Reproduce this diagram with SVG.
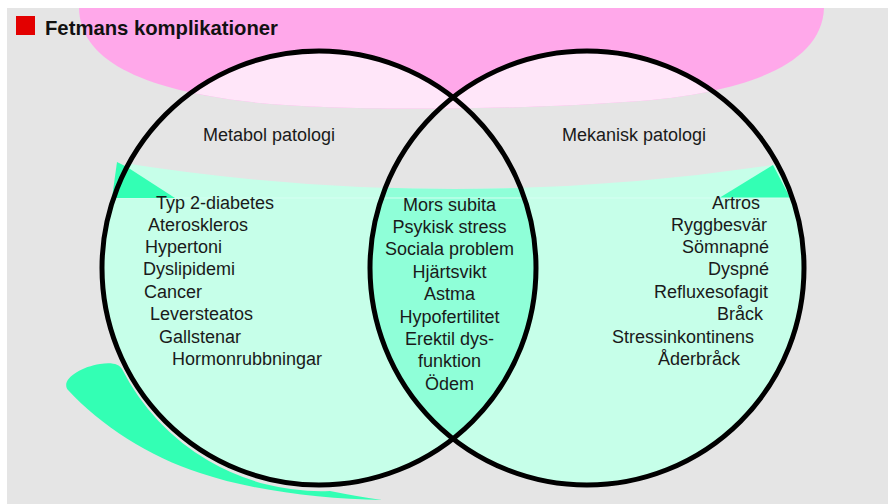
<svg xmlns="http://www.w3.org/2000/svg" width="888" height="504" viewBox="0 0 888 504">
<style>
.t{font-family:"Liberation Sans",Arial,sans-serif;font-size:18px;fill:#1a1a1a}
.c{text-anchor:middle}
.e{text-anchor:end}
.ring{fill:none;stroke:#000;stroke-width:5}
</style>
<defs>
<clipPath id="cu"><circle cx="319" cy="268" r="217"/><circle cx="587" cy="268" r="217"/></clipPath>
<clipPath id="ca"><circle cx="319" cy="268" r="217"/></clipPath>
<clipPath id="cb"><circle cx="587" cy="268" r="217"/></clipPath>
<path id="blob" d="M79,8 C80,60 140,92 270,104 C360,111 520,110 640,101 C745,92 822,65 824,8 Z"/>
<path id="lower" d="M90,162 L117,162 Q445,214.5 773,165 L820,165 L820,504 L90,504 Z"/>
</defs>
<g id="background">
<rect x="0" y="0" width="888" height="504" fill="#fff"/>
<rect x="7" y="8" width="881" height="496" fill="#e5e5e5"/>
<use href="#blob" fill="#ffa8ea"/>
<use href="#blob" fill="#ffe6f9" clip-path="url(#cu)"/>
<use href="#lower" fill="#c6ffe9" clip-path="url(#cu)"/>
<g clip-path="url(#ca)"><use href="#lower" fill="#8fffd8" clip-path="url(#cb)"/></g>
<line x1="110" y1="198" x2="792" y2="198" stroke="#d6fff2" stroke-width="1" clip-path="url(#cu)"/>
<path d="M117,162 L127,167 L175,198 L112,198 Z" fill="#33ffb4"/>
<path d="M773,165 L790,197.5 L720,197.5 Z" fill="#33ffb4"/>
<path d="M122,369 A223,223 0 0 0 330,491 Q360,497 382,500 C320,499 250,490 200,473 C150,457 100,425 68,390 C60,380 80,367 100,364 C112,362 119,364 122,369 Z" fill="#33ffb4"/>
</g>
<g id="title">
<rect x="16" y="16" width="19" height="19" fill="#e30000"/>
<text x="45" y="35" font-family="Liberation Sans,Arial,sans-serif" font-size="21" font-weight="bold" fill="#111" textLength="233" lengthAdjust="spacingAndGlyphs">Fetmans komplikationer</text>
</g>
<g id="metabol">
<circle class="ring" cx="319" cy="268" r="217"/>
<text class="t c" x="269" y="141">Metabol patologi</text>
<text class="t" x="156" y="209">Typ 2-diabetes</text>
<text class="t" x="148" y="231">Ateroskleros</text>
<text class="t" x="145" y="253">Hypertoni</text>
<text class="t" x="143" y="275">Dyslipidemi</text>
<text class="t" x="144" y="298">Cancer</text>
<text class="t" x="150" y="320">Leversteatos</text>
<text class="t" x="159" y="343">Gallstenar</text>
<text class="t" x="172" y="365">Hormonrubbningar</text>
</g>
<g id="mekanisk">
<circle class="ring" cx="587" cy="268" r="217"/>
<text class="t c" x="634" y="141">Mekanisk patologi</text>
<text class="t e" x="760" y="209">Artros</text>
<text class="t e" x="767" y="231">Ryggbesvär</text>
<text class="t e" x="769" y="253">Sömnapné</text>
<text class="t e" x="769" y="275">Dyspné</text>
<text class="t e" x="768" y="298">Refluxesofagit</text>
<text class="t e" x="763" y="320">Bråck</text>
<text class="t e" x="754" y="343">Stressinkontinens</text>
<text class="t e" x="740" y="365">Åderbråck</text>
</g>
<g id="gemensam">
<text class="t c" x="449.5" y="211">Mors subita</text>
<text class="t c" x="449.5" y="233">Psykisk stress</text>
<text class="t c" x="449.5" y="255">Sociala problem</text>
<text class="t c" x="449.5" y="278">Hjärtsvikt</text>
<text class="t c" x="449.5" y="300">Astma</text>
<text class="t c" x="449.5" y="323">Hypofertilitet</text>
<text class="t c" x="449.5" y="345">Erektil dys-</text>
<text class="t c" x="449.5" y="367">funktion</text>
<text class="t c" x="449.5" y="390">Ödem</text>
</g>
</svg>
